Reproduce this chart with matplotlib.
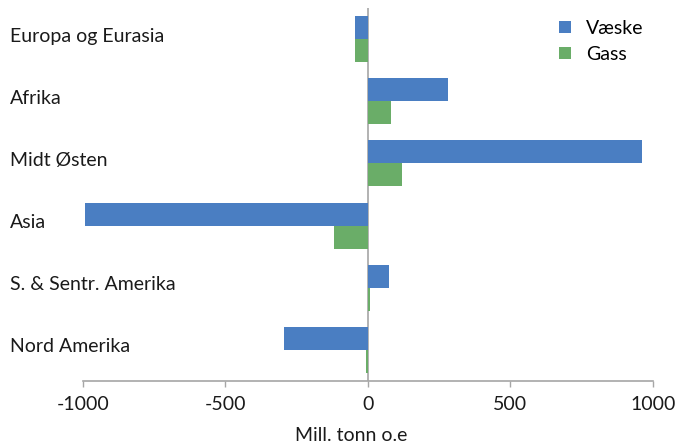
import numpy as np
import matplotlib.pyplot as plt
from matplotlib.transforms import blended_transform_factory

# regions, top to bottom
regions = ['Europa og Eurasia', 'Afrika', 'Midt Østen', 'Asia',
           'S. & Sentr. Amerika', 'Nord Amerika']
vaeske = [-46, 281, 961, -993, 74, -295]
gass = [-46, 81, 119, -119, 9, -5]
xticks = [-1000, -500, 0, 500, 1000]

blue = '#4A7EC2'
green = '#6AAD68'
grey = '#A6A6A6'
txt = '#1a1a1a'
fs = 14

plt.rcParams['font.family'] = ['Lato', 'DejaVu Sans']

fig = plt.figure(figsize=(6.75, 4.47), dpi=100)
ax = fig.add_axes([0.123, 0.148, 0.844, 0.834])

y = np.arange(len(regions))
h = 0.37
ax.barh(y - h / 2, vaeske, height=h, color=blue, label='Væske')
ax.barh(y + h / 2, gass, height=h, color=green, label='Gass')

ax.set_ylim(len(regions) - 0.5, -0.5)
ax.set_xlim(-1000, 1000)
ax.axvline(0, color=grey, lw=1.2, zorder=0)

for s in ['left', 'right', 'top']:
    ax.spines[s].set_visible(False)
ax.spines['bottom'].set_color(grey)
ax.spines['bottom'].set_linewidth(1.2)

ax.set_yticks([])
ax.set_xticks(xticks)
ax.set_xticklabels([str(t) for t in xticks], fontsize=fs)
ax.tick_params(axis='x', colors=grey, length=4, width=1, pad=7,
               labelcolor=txt)
ax.set_xlabel('Mill. tonn o.e', fontsize=fs, color=txt, labelpad=12)
ax.xaxis.set_label_coords(0.471, -0.125)

# category labels sit flush left at the figure edge
tr = blended_transform_factory(fig.transFigure, ax.transData)
for i, name in enumerate(regions):
    ax.text(0.015, i - 0.05, name, transform=tr, ha='left', va='center',
            fontsize=fs, color=txt)

ax.legend(loc='upper right', bbox_to_anchor=(1.015, 1.015), frameon=False,
          fontsize=fs, handlelength=0.6, handleheight=0.6,
          handletextpad=0.8, labelspacing=0.45)

fig.savefig('out.png', dpi=100)
